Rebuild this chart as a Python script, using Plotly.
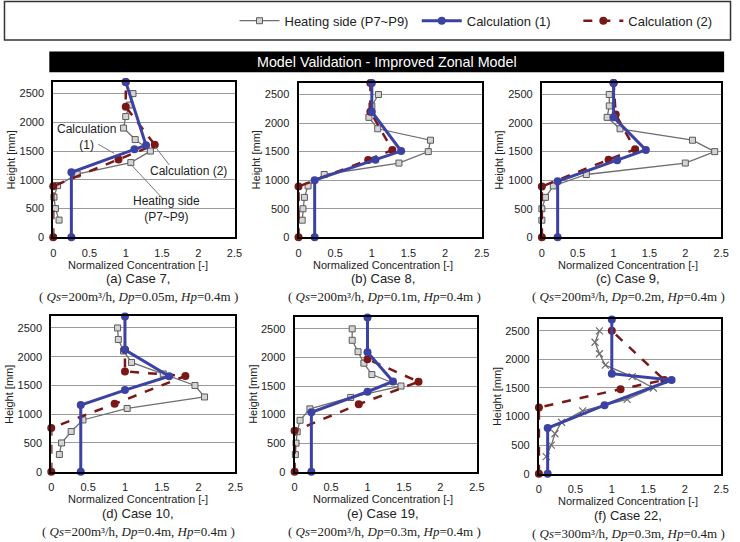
import plotly.graph_objects as go

# ---------------- data ----------------
heat_y = [300, 500, 700, 900, 1100, 1300, 1500, 1700, 1900, 2100, 2300, 2500]
heat_a = [0.08, 0.03, 0.01, 0.06, 0.33, 1.07, 1.34, 1.13, 0.97, 1.00, 1.05, 1.10]
heat_b = [0.05, 0.06, 0.08, 0.13, 0.35, 1.37, 1.77, 1.80, 1.08, 0.96, 1.00, 1.09]
heat_c = [0.00, 0.00, 0.05, 0.16, 0.62, 2.00, 2.41, 2.10, 1.09, 0.91, 0.94, 0.94]
heat_d = [0.11, 0.14, 0.27, 0.43, 1.03, 2.08, 1.95, 1.52, 1.09, 0.98, 0.91, 0.90]
heat_e = [0.01, 0.02, 0.035, 0.075, 0.21, 0.77, 1.46, 1.06, 0.95, 0.87, 0.79, 0.79]
heat_f = [0.10, 0.17, 0.22, 0.31, 0.60, 1.21, 1.57, 1.28, 0.91, 0.83, 0.77, 0.83]

calc1_a_x = [0.25, 0.25, 1.12, 1.28, 1.00]
calc1_a_y = [0, 1130, 1530, 1600, 2700]
calc1_b_x = [0.22, 0.22, 1.05, 1.40, 1.00, 1.00]
calc1_b_y = [0, 1000, 1360, 1510, 2200, 2700]
calc1_c_x = [0.22, 0.22, 1.05, 1.45, 1.00, 1.00]
calc1_c_y = [0, 980, 1350, 1530, 2100, 2700]
calc1_d_x = [0.40, 0.40, 1.00, 1.60, 1.00, 1.00]
calc1_d_y = [0, 1160, 1420, 1660, 2120, 2700]
calc1_e_x = [0.23, 0.23, 1.00, 1.35, 1.00, 1.00]
calc1_e_y = [0, 1040, 1400, 1580, 2090, 2700]
calc1_f_x = [0.12, 0.12, 0.90, 1.82, 1.00, 1.00]
calc1_f_y = [0, 800, 1200, 1640, 1750, 2700]

calc2_a_x = [0, 0, 0.90, 1.40, 1.00, 1.00]
calc2_a_y = [0, 890, 1355, 1610, 2270, 2700]
calc2_b_x = [0, 0, 0.95, 1.28, 0.98, 0.98]
calc2_b_y = [0, 890, 1355, 1530, 2200, 2700]
calc2_c_x = [0, 0, 0.93, 1.30, 1.03, 1.00]
calc2_c_y = [0, 890, 1360, 1540, 2150, 2700]
calc2_d_x = [0, 0, 0.86, 1.82, 1.00, 1.00]
calc2_d_y = [0, 760, 1180, 1665, 1745, 2120]
calc2_e_x = [0, 0, 0.88, 1.70, 1.00]
calc2_e_y = [0, 715, 1180, 1575, 1970]
calc2_f_x = [0, 0, 1.12, 1.72, 1.00]
calc2_f_y = [0, 1160, 1480, 1640, 2500]

case_titles = ["(a) Case 7,", "(b) Case 8,", "(c) Case 9,",
               "(d) Case 10,", "(e) Case 19,", "(f) Case 22,"]
case_params = [
    "( <i>Qs</i>=200m³/h, <i>Dp</i>=0.05m, <i>Hp</i>=0.4m )",
    "( <i>Qs</i>=200m³/h, <i>Dp</i>=0.1m, <i>Hp</i>=0.4m )",
    "( <i>Qs</i>=200m³/h, <i>Dp</i>=0.2m, <i>Hp</i>=0.4m )",
    "( <i>Qs</i>=200m³/h, <i>Dp</i>=0.4m, <i>Hp</i>=0.4m )",
    "( <i>Qs</i>=200m³/h, <i>Dp</i>=0.3m, <i>Hp</i>=0.4m )",
    "( <i>Qs</i>=300m³/h, <i>Dp</i>=0.3m, <i>Hp</i>=0.4m )",
]
x_ticks = [0, 0.5, 1, 1.5, 2, 2.5]
x_tick_text = ["0", "0.5", "1", "1.5", "2", "2.5"]
y_ticks = [0, 500, 1000, 1500, 2000, 2500]

series_names = ["Heating side (P7~P9)", "Calculation (1)", "Calculation (2)"]

# ---------------- layout geometry (pixels) ----------------
W, H = 740, 542
panels = [  # x0, x1, ytop, ybottom
    (51, 235, 83, 240),
    (300, 486, 84, 240),
    (547, 729, 84, 240),
    (49, 236, 320, 477),
    (296, 481, 321, 477),
    (544, 729, 323, 479),
]
cap_cx = [137, 386, 634, 137, 386, 634]
legend_text_x = [283, 468, 632]

def px(x):
    return x / W

def py(y):
    return 1 - y / H

GRAY = "#6e6e6e"
BLUE = "#3b42a2"
RED = "#7a1818"
SANS = "Liberation Sans, Arial, sans-serif"
SERIF = "Liberation Serif, Times New Roman, serif"

heat_all = [heat_a, heat_b, heat_c, heat_d, heat_e, heat_f]
c1 = [(calc1_a_x, calc1_a_y), (calc1_b_x, calc1_b_y), (calc1_c_x, calc1_c_y),
      (calc1_d_x, calc1_d_y), (calc1_e_x, calc1_e_y), (calc1_f_x, calc1_f_y)]
c2 = [(calc2_a_x, calc2_a_y), (calc2_b_x, calc2_b_y), (calc2_c_x, calc2_c_y),
      (calc2_d_x, calc2_d_y), (calc2_e_x, calc2_e_y), (calc2_f_x, calc2_f_y)]

def leg(xtext):
    return dict(orientation="h", x=px(xtext - 48), xanchor="left", y=py(21), yanchor="middle",
                font=dict(size=13, family=SANS, color="#222"), bgcolor="rgba(0,0,0,0)",
                itemwidth=40, borderwidth=0)

fig = go.Figure()
layout = dict(
    width=W, height=H,
    margin=dict(l=0, r=0, t=0, b=0),
    paper_bgcolor="white", plot_bgcolor="white",
    font=dict(family=SANS, size=11, color="#222"),
    showlegend=True,
    legend=leg(legend_text_x[0]),
    legend2=leg(legend_text_x[1]),
    legend3=leg(legend_text_x[2]),
)

annotations = []
shapes = []

for i in range(6):
    sfx = "" if i == 0 else str(i + 1)
    xa, ya = "x" + sfx, "y" + sfx
    x0, x1, yt, yb = panels[i]
    first = i == 0
    if i == 5:
        mk = dict(symbol="x-thin", size=7, color=GRAY, line=dict(color=GRAY, width=1.2))
    else:
        mk = dict(symbol="square", size=6, color="#d4d4d4", line=dict(color="#5a5a5a", width=1))
    fig.add_trace(go.Scatter(x=heat_all[i], y=heat_y, mode="lines+markers", xaxis=xa, yaxis=ya,
                             name=series_names[0], legendgroup="h", showlegend=first, legend="legend",
                             line=dict(color=GRAY, width=1.3), marker=mk, cliponaxis=False))
    fig.add_trace(go.Scatter(x=c2[i][0], y=c2[i][1], mode="lines+markers", xaxis=xa, yaxis=ya,
                             name=series_names[2], legendgroup="c2", showlegend=first, legend="legend3",
                             line=dict(color=RED, width=2.5, dash="dash"),
                             marker=dict(symbol="circle", size=8, color=RED), cliponaxis=False))
    fig.add_trace(go.Scatter(x=c1[i][0], y=c1[i][1], mode="lines+markers", xaxis=xa, yaxis=ya,
                             name=series_names[1], legendgroup="c1", showlegend=first, legend="legend2",
                             line=dict(color=BLUE, width=3),
                             marker=dict(symbol="circle", size=8, color=BLUE), cliponaxis=False))
    xkey = "xaxis" + sfx
    ykey = "yaxis" + sfx
    layout[xkey] = dict(domain=[px(x0), px(x1)], range=[0, 2.5], anchor=ya,
                        tickvals=x_ticks, ticktext=x_tick_text, tickfont=dict(size=11, color="#222"),
                        showgrid=False, zeroline=False, showline=True, mirror=True,
                        linecolor="black", linewidth=2, ticks="", ticklabelstandoff=4,
                        fixedrange=True)
    layout[ykey] = dict(domain=[py(yb), py(yt)], range=[0, 2700], anchor=xa,
                        tickvals=y_ticks, tickfont=dict(size=11, color="#222"),
                        showgrid=True, gridcolor="#9a9a9a", gridwidth=1, zeroline=False,
                        showline=True, mirror=True, linecolor="black", linewidth=2,
                        ticks="", ticklabelstandoff=5, fixedrange=True)
    annotations.append(dict(x=px(cap_cx[i]), y=py(yb + 28), xref="paper", yref="paper",
                            text="Normalized Concentration [-]", showarrow=False,
                            font=dict(size=11, family=SANS, color="#222"),
                            xanchor="center", yanchor="middle"))
    annotations.append(dict(x=px(x0 - 43), y=py((yt + yb) / 2), xref="paper", yref="paper",
                            text="Height [mm]", showarrow=False, textangle=-90,
                            font=dict(size=11, family=SANS, color="#222"),
                            xanchor="center", yanchor="middle"))
    annotations.append(dict(x=px(cap_cx[i]), y=py(yb + 42), xref="paper", yref="paper",
                            text=case_titles[i], showarrow=False,
                            font=dict(size=13, family=SANS, color="#222"),
                            xanchor="center", yanchor="middle"))
    annotations.append(dict(x=px(cap_cx[i] + 1), y=py(yb + 60), xref="paper", yref="paper",
                            text=case_params[i], showarrow=False,
                            font=dict(size=13, family=SERIF, color="#222"),
                            xanchor="center", yanchor="middle"))

# in-plot labels for panel (a)
LBL = dict(size=12, family=SANS, color="#222")
annotations += [
    dict(x=0.46, y=1740, xref="x", yref="y", text="Calculation<br>(1)", showarrow=False,
         font=LBL, xanchor="center", yanchor="middle"),
    dict(x=1.87, y=1150, xref="x", yref="y", text="Calculation (2)", showarrow=False,
         font=LBL, xanchor="center", yanchor="middle"),
    dict(x=1.56, y=500, xref="x", yref="y", text="Heating side<br>(P7~P9)", showarrow=False,
         font=LBL, xanchor="center", yanchor="middle"),
]
for (ax0, ay0, ax1, ay1) in [(0.62, 1620, 0.84, 1460), (1.41, 1570, 1.60, 1260), (1.07, 1270, 1.52, 660)]:
    shapes.append(dict(type="line", xref="x", yref="y", x0=ax0, y0=ay0, x1=ax1, y1=ay1,
                       line=dict(color="#777", width=1)))

# legend box and title bar
shapes.append(dict(type="rect", xref="paper", yref="paper", x0=px(1.5), x1=px(738.5),
                   y0=py(40.5), y1=py(1.5), line=dict(color="#333", width=1.5), layer="below"))
shapes.append(dict(type="rect", xref="paper", yref="paper", x0=px(47), x1=px(732),
                   y0=py(73), y1=py(52), fillcolor="black", line=dict(width=0), layer="below"))
annotations.append(dict(x=px(389.5), y=py(62.5), xref="paper", yref="paper",
                        text="Model Validation - Improved Zonal Model", showarrow=False,
                        font=dict(size=14.3, family=SANS, color="white"),
                        xanchor="center", yanchor="middle"))

layout["annotations"] = annotations
layout["shapes"] = shapes
fig.update_layout(**layout)
fig.write_html("out.html", config={"displayModeBar": False},
               post_script="document.body.style.margin='0';document.body.style.padding='0';"
                           "document.body.style.overflow='hidden';")
